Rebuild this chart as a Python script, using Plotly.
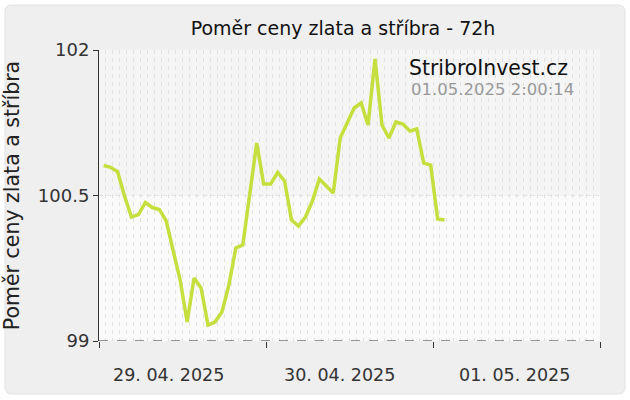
import pandas as pd
import plotly.graph_objects as go

# hourly gold/silver ratio readings, 29.04.2025 00:40 onwards
start = '2025-04-29 00:40'
ratio = [
    100.809, 100.791, 100.745, 100.495, 100.278, 100.304, 100.428, 100.376,
    100.356, 100.237, 99.928, 99.629, 99.196, 99.649, 99.546, 99.165,
    99.196, 99.299, 99.577, 99.959, 99.990, 100.505, 101.041, 100.619,
    100.619, 100.737, 100.650, 100.247, 100.186, 100.278, 100.443, 100.670,
    100.593, 100.526, 101.093, 101.258, 101.402, 101.454, 101.227, 101.907,
    101.227, 101.093, 101.258, 101.237, 101.165, 101.186, 100.835, 100.814,
    100.258, 100.247,
]
times = pd.date_range(start, periods=len(ratio), freq='h')

day_ticks = ['2025-04-29', '2025-04-30', '2025-05-01', '2025-05-02']
label_times = ['2025-04-29 10:00', '2025-04-30 10:30', '2025-05-01 11:40']
label_text = ['29. 04. 2025', '30. 04. 2025', '01. 05. 2025']
y_ticks = [99, 100.5, 102]
y_text = ['99', '100.5', '102']

font = 'DejaVu Sans, Verdana'

# plot area in pixels: left 99, right 600, top 50, bottom 341
L, R, T, B = 99, 600, 50, 341


def px(x, y):
    return (x - L) / (R - L), (B - y) / (B - T)


def panel_path(x0, y0, x1, y1, r):
    pts = []
    a = px(x0 + r, y0); pts.append('M %f %f' % a)
    a = px(x1 - r, y0); pts.append('L %f %f' % a)
    c = px(x1, y0); e = px(x1, y0 + r); pts.append('Q %f %f %f %f' % (c + e))
    a = px(x1, y1 - r); pts.append('L %f %f' % a)
    c = px(x1, y1); e = px(x1 - r, y1); pts.append('Q %f %f %f %f' % (c + e))
    a = px(x0 + r, y1); pts.append('L %f %f' % a)
    c = px(x0, y1); e = px(x0, y1 - r); pts.append('Q %f %f %f %f' % (c + e))
    a = px(x0, y0 + r); pts.append('L %f %f' % a)
    c = px(x0, y0); e = px(x0 + r, y0); pts.append('Q %f %f %f %f' % (c + e))
    return ' '.join(pts) + ' Z'


fig = go.Figure()
fig.add_trace(go.Scatter(
    x=times, y=ratio, mode='lines',
    line=dict(color='#C6DF3E', width=3.5),
    hoverinfo='x+y', showlegend=False,
))

shapes = [
    # outer grey panel
    dict(type='path', xref='paper', yref='paper', layer='below',
         path=panel_path(5, 5, 625, 394, 7),
         fillcolor='#EFEFEF', line=dict(color='#E2E2E2', width=1)),
    # plot area background
    dict(type='rect', xref='paper', yref='paper', layer='below',
         x0=0, x1=1, y0=0, y1=1, fillcolor='#F5F5F5', line=dict(width=0)),
    dict(type='rect', xref='paper', yref='y', layer='below',
         x0=0, x1=1, y0=99, y1=100.5, fillcolor='#FAFAFA', line=dict(width=0)),
    # dashed bottom axis
    dict(type='line', xref='paper', yref='y', x0=0, x1=1, y0=99, y1=99,
         line=dict(color='#333333', width=1, dash='dash')),
]

annotations = [
    dict(x=(407 - L) / (R - L), y=(B - 68) / (B - T), xref='paper', yref='paper',
         xanchor='left', yanchor='middle', showarrow=False,
         text='StribroInvest.cz', font=dict(family=font, size=20.4, color='#111111')),
    dict(x=(409 - L) / (R - L), y=(B - 90) / (B - T), xref='paper', yref='paper',
         xanchor='left', yanchor='middle', showarrow=False,
         text='01.05.2025 2:00:14', font=dict(family=font, size=16.5, color='#999999')),
]
for t, s in zip(label_times, label_text):
    annotations.append(dict(
        x=t, y=(B - 375) / (B - T), xref='x', yref='paper',
        xanchor='center', yanchor='middle', showarrow=False,
        text=s, font=dict(family=font, size=17.5, color='#333333')))

fig.update_layout(
    width=630, height=400,
    margin=dict(l=L, r=630 - R, t=T, b=400 - B),
    paper_bgcolor='white',
    plot_bgcolor='rgba(0,0,0,0)',
    font=dict(family=font, color='#333333'),
    title=dict(text='Poměr ceny zlata a stříbra - 72h',
               x=(343 - L) / (R - L), xref='paper', xanchor='center',
               y=1 - 28 / 400, yanchor='middle',
               font=dict(family=font, size=19, color='#111111')),
    xaxis=dict(
        range=['2025-04-29', '2025-05-02'],
        tickvals=day_ticks, showticklabels=False,
        ticks='outside', ticklen=6, tickcolor='#333333',
        showgrid=True, gridcolor='#E2E2E2', griddash='4px,4px',
        minor=dict(dtick=3600000, showgrid=True, gridcolor='#E2E2E2',
                   griddash='4px,4px', ticks=''),
        showline=False, zeroline=False,
    ),
    yaxis=dict(
        range=[99, 102], tickvals=y_ticks, ticktext=y_text,
        ticks='outside', ticklen=5, tickcolor='#333333',
        tickfont=dict(family=font, size=18, color='#333333'),
        showline=True, linecolor='#333333', linewidth=1,
        showgrid=True, gridcolor='#E2E2E2', griddash='4px,4px',
        zeroline=False,
        title=dict(text='Poměr ceny zlata a stříbra', standoff=12,
                   font=dict(family=font, size=20.5, color='#222222')),
        automargin=False,
    ),
    shapes=shapes,
    annotations=annotations,
)

fig.write_html('out.html', config={'displayModeBar': False},
               post_script="document.body.style.margin='0px';")
